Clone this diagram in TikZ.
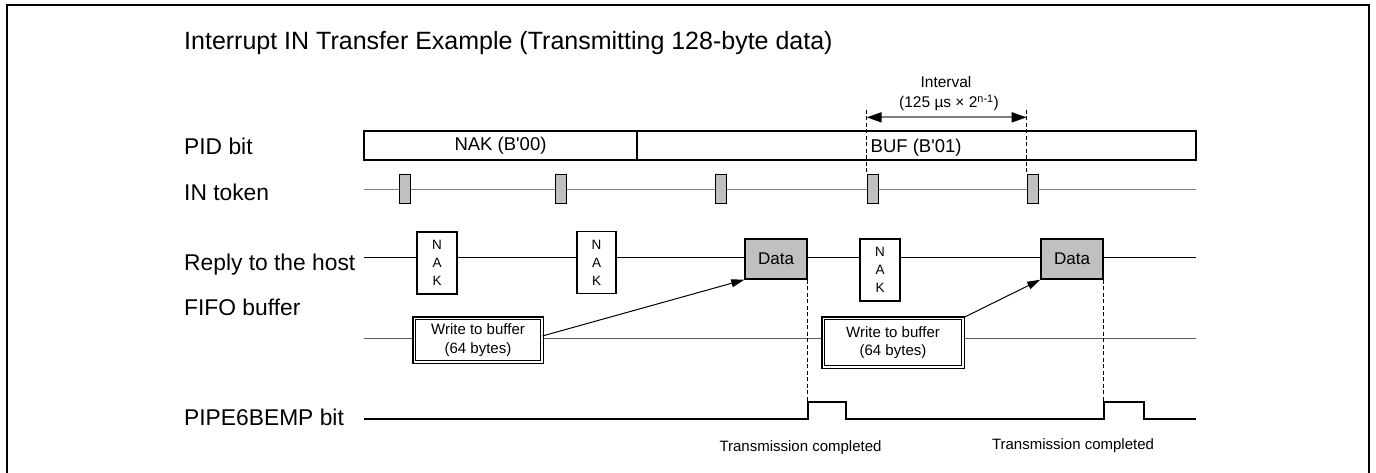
\documentclass[tikz,border=0pt]{standalone}
\usepackage{fontspec}
\setmainfont{Liberation Sans}
\usetikzlibrary{arrows.meta}
\definecolor{boxgray}{HTML}{C0C0C0}
\definecolor{linegray}{HTML}{808080}
\definecolor{fifogray}{HTML}{5A5A5A}
\begin{document}
\begin{tikzpicture}[x=1pt,y=-1pt,
  lbl/.style={anchor=base west, inner sep=0, font=\fontsize{22.8}{26}\selectfont},
  ttl/.style={anchor=base west, inner sep=0, font=\fontsize{25}{29}\selectfont},
  pidbox/.style={draw, line width=1.8pt, inner sep=0, minimum height=29pt, font=\fontsize{18.5}{22}\selectfont},
  tok/.style={draw, fill=boxgray, line width=1.3pt, minimum width=11pt, minimum height=29pt, inner sep=0},
  nakbox/.style={draw, fill=white, line width=1.3pt, minimum width=40pt, minimum height=62pt, inner sep=0, align=center, font=\fontsize{13.5}{18}\selectfont},
  databox/.style={draw, fill=boxgray, line width=1.5pt, minimum width=62pt, minimum height=40pt, inner sep=0, font=\fontsize{17}{20}\selectfont},
  wbox/.style={draw, fill=white, double, double distance=1.5pt, line width=1.1pt, inner sep=0, align=center, font=\fontsize{15}{18.5}\selectfont},
  small/.style={anchor=base, inner sep=0, font=\fontsize{15}{18}\selectfont},
  ivl/.style={anchor=base, inner sep=0, font=\fontsize{15.5}{18}\selectfont},
  sigline/.style={line width=1pt},
  pipeline/.style={line width=2pt},
  dashln/.style={dashed, dash pattern=on 4pt off 2.5pt, line width=1pt},
  flow/.style={line width=1pt, -{Triangle[length=13pt,width=8pt]}},
]
\useasboundingbox (0,0) rectangle (1376,472);
% frame
\draw[line width=2pt] (7,474) -- (7,5) -- (1369,5) -- (1369,474);

% title and row labels
\node[ttl] (title) at (184,49) {Interrupt IN Transfer Example (Transmitting 128-byte data)};
\node[lbl] (lpid) at (184,154) {PID bit};
\node[lbl] (lin) at (184,200.7) {IN token};
\node[lbl] (lrep) at (184,270.7) {Reply to the host};
\node[lbl] (lfifo) at (184,315) {FIFO buffer};
\node[lbl] (lpipe) at (184,425) {PIPE6BEMP bit};

% timeline axes
\coordinate (in-s) at (364,189.3);  \coordinate (in-e) at (1196,189.3);
\coordinate (rep-s) at (364,257.3); \coordinate (rep-e) at (1196,257.3);
\coordinate (fi-s) at (364,338.3);  \coordinate (fi-e) at (1196,338.3);
\draw[sigline, linegray] (in-s) -- (in-e);
\draw[sigline, black, line width=1.2pt] (rep-s) -- (rep-e);
\draw[sigline, fifogray] (fi-s) -- (fi-e);

% PID bit
\node[pidbox, minimum width=273pt] (pid0) at (500.5,145.5) {NAK (B\textquotesingle 00)};
\node[pidbox, minimum width=559pt] (pid1) at (916.5,145.5) {};
\node[anchor=base west, inner sep=0, font=\fontsize{18.5}{22}\selectfont] (pid1t) at (870.5,152) {BUF (B\textquotesingle 01)};

% IN tokens
\node[tok] (tok1) at (405,188.8) {};
\node[tok] (tok2) at (561.3,188.8) {};
\node[tok] (tok3) at (721.2,188.8) {};
\node[tok] (tok4) at (872.8,188.8) {};
\node[tok] (tok5) at (1032.8,188.8) {};

% interval
\path (tok4.north west) ++(0,-64) coordinate (iv1);
\path (tok5.north west) ++(0,-64) coordinate (iv2);
\draw[dashln] (iv1) -- (tok4.north west);
\draw[dashln] (iv2) -- (tok5.north west);
\path (iv1) ++(0,7.7) coordinate (ia1);
\path (iv2) ++(0,7.7) coordinate (ia2);
\draw[line width=1.8pt, draw=gray, {Triangle[black,length=15pt,width=10pt]}-{Triangle[black,length=15pt,width=10pt]}] (ia1) -- (ia2);
\node[ivl] (ivt1) at (946,87.5) {Interval};
\node[ivl] (ivt2) at (949,107.7) {(125 µs × 2\textsuperscript{n-1})};

% replies to the host
\node[nakbox] (nak1) at (437,263) {N\\A\\K};
\node[nakbox, minimum width=39pt] (nak2) at (596.5,262.7) {N\\A\\K};
\node[nakbox] (nak3) at (880,270) {N\\A\\K};
\node[databox] (d1) at (776,259) {Data};
\node[databox] (d2) at (1072,259) {Data};

% FIFO buffer
\node[wbox, minimum width=127.5pt, minimum height=43.5pt] (w1) at (478,340) {Write to buffer\\(64 bytes)};
\node[wbox, minimum width=139.5pt, minimum height=48.5pt] (w2) at (893,342.5) {Write to buffer\\(64 bytes)};
\draw[flow] (w1.east) ++(0,-4) -- (d1.south west);
\draw[flow] (w2.north east) -- (d2.south west);

% PIPE6BEMP bit
\coordinate (p-s) at (364,419.3);
\coordinate (p-e) at (1196,419.3);
\coordinate (p1a) at (d1.south east |- 0,419.3);
\coordinate (p1b) at (d1.south east |- 0,401.7);
\coordinate (p1c) at (846,401.7);
\coordinate (p1d) at (846,419.3);
\coordinate (p2a) at (d2.south east |- 0,419.3);
\coordinate (p2b) at (d2.south east |- 0,401.7);
\coordinate (p2c) at (1144,401.7);
\coordinate (p2d) at (1144,419.3);
\draw[pipeline] (p-s) -- (p1a) -- (p1b) -- (p1c) -- (p1d) -- (p2a) -- (p2b) -- (p2c) -- (p2d) -- (p-e);
\draw[dashln] (d1.south east) -- (p1b);
\draw[dashln] (d2.south east) -- (p2b);

\node[small] (tc1) at (800.5,451) {Transmission completed};
\node[small] (tc2) at (1073,449.5) {Transmission completed};
\end{tikzpicture}
\end{document}
